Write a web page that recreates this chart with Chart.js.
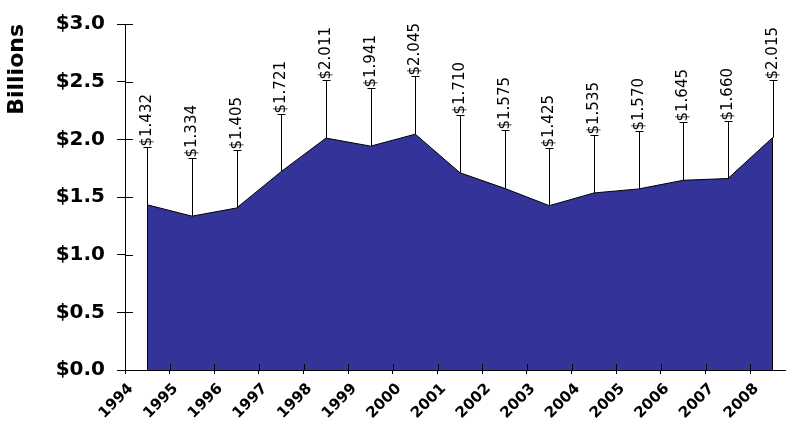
<!DOCTYPE html>
<html>
<head>
<meta charset="utf-8">
<script src="https://cdn.jsdelivr.net/npm/chart.js@4/dist/chart.umd.min.js"></script>
<style>
  body { margin: 0; background: #fff; overflow: hidden; }
  canvas { display: block; }
</style>
</head>
<body>
<canvas id="chart" width="786" height="428"></canvas>
<script>
'use strict';

var years  = ['1994', '1995', '1996', '1997', '1998', '1999', '2000', '2001',
              '2002', '2003', '2004', '2005', '2006', '2007', '2008'];
var values = [1.432, 1.334, 1.405, 1.721, 2.011, 1.941, 2.045, 1.710,
              1.575, 1.425, 1.535, 1.570, 1.645, 1.660, 2.015];
var yTicks = [0, 0.5, 1.0, 1.5, 2.0, 2.5, 3.0];

var tickFont = 'DejaVu Sans';

// points sit in the middle of each year slot, labels on the slot's left edge
var points = values.map(function (v, i) { return { x: i + 0.5, y: v }; });

// leader lines + rotated value labels, area edges, inner half of the tick marks
var extras = {
  id: 'extras',
  afterDatasetsDraw: function (chart) {
    var ctx  = chart.ctx,
        xs   = chart.scales.x,
        ys   = chart.scales.y,
        meta = chart.getDatasetMeta(0),
        base = ys.getPixelForValue(0);

    ctx.save();
    ctx.strokeStyle = '#000';
    ctx.lineWidth = 1;

    // closing edges of the area
    var first = meta.data[0], last = meta.data[meta.data.length - 1];
    ctx.beginPath();
    ctx.moveTo(Math.round(first.x) + 0.5, first.y);
    ctx.lineTo(Math.round(first.x) + 0.5, base);
    ctx.moveTo(Math.round(last.x) - 0.5, last.y);
    ctx.lineTo(Math.round(last.x) - 0.5, base);
    ctx.stroke();

    // inside ticks
    ctx.beginPath();
    ys.ticks.forEach(function (t) {
      var py = Math.round(ys.getPixelForValue(t.value)) + 0.5;
      ctx.moveTo(xs.left, py);
      ctx.lineTo(xs.left + 8, py);
    });
    xs.ticks.forEach(function (t) {
      var px = Math.round(xs.getPixelForValue(t.value)) + 0.5;
      ctx.moveTo(px, base - 6);
      ctx.lineTo(px, base);
    });
    ctx.stroke();

    // leader lines with labels
    ctx.font = '15px "DejaVu Sans"';
    ctx.fillStyle = '#000';
    ctx.textAlign = 'left';
    ctx.textBaseline = 'middle';
    meta.data.forEach(function (p, i) {
      var px  = Math.round(p.x) + 0.5,
          top = Math.round(p.y - 58) + 0.5;
      ctx.beginPath();
      ctx.moveTo(px, p.y);
      ctx.lineTo(px, top);
      ctx.moveTo(px - 4, top);
      ctx.lineTo(px + 4, top);
      ctx.stroke();

      ctx.save();
      ctx.translate(px, top);
      ctx.rotate(-Math.PI / 2);
      ctx.fillText('$' + values[i].toFixed(3), 1, 0);
      ctx.restore();
    });
    ctx.restore();
  }
};

Chart.defaults.color = '#000';

new Chart(document.getElementById('chart'), {
  type: 'line',
  data: {
    datasets: [{
      data: points,
      borderColor: '#000',
      borderWidth: 1,
      backgroundColor: '#333399',
      fill: 'origin',
      pointRadius: 0,
      tension: 0
    }]
  },
  options: {
    responsive: false,
    animation: false,
    layout: { padding: { top: 18, right: 0, bottom: 0, left: 0 } },
    plugins: {
      legend: { display: false },
      tooltip: { enabled: false }
    },
    scales: {
      x: {
        type: 'linear',
        min: 0,
        max: 14.8,
        z: 1,
        afterFit: function (s) { s.height = 58; },
        grid: { drawOnChartArea: false, tickLength: 4, color: '#000' },
        border: { color: '#000', width: 1 },
        ticks: {
          stepSize: 1,
          includeBounds: false,
          autoSkip: false,
          minRotation: 45,
          maxRotation: 45,
          labelOffset: 6,
          padding: 6,
          font: { family: tickFont, size: 15, weight: 'bold' },
          callback: function (v) { return years[v] || ''; }
        }
      },
      y: {
        min: 0,
        max: 3,
        z: 1,
        afterFit: function (s) { s.width = 125; },
        afterBuildTicks: function (s) {
          s.ticks = yTicks.map(function (v) { return { value: v }; });
        },
        grid: { drawOnChartArea: false, tickLength: 8, color: '#000' },
        border: { color: '#000', width: 1 },
        ticks: {
          padding: 12,
          font: { family: tickFont, size: 20, weight: 'bold' },
          callback: function (v) { return '$' + v.toFixed(1); }
        },
        title: {
          display: true,
          text: 'Billions',
          align: 'end',
          padding: { top: 4, bottom: 0 },
          font: { family: tickFont, size: 22, weight: 'bold' }
        }
      }
    }
  },
  plugins: [extras]
});
</script>
</body>
</html>
